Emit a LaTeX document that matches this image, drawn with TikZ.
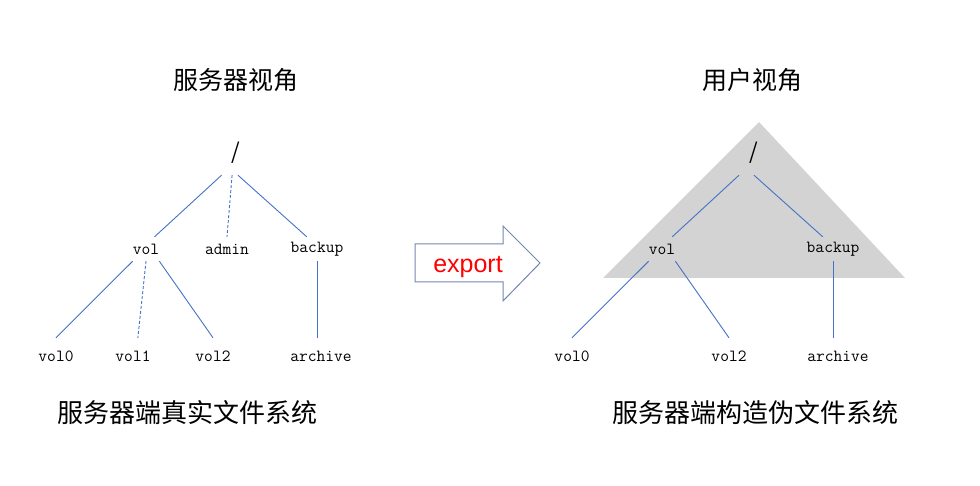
\documentclass[tikz,border=0pt]{standalone}
\usepackage{fontspec}
\newfontfamily\cjk{Noto Sans CJK SC}
\newfontfamily\arialfont{Liberation Sans}
\definecolor{linkblue}{HTML}{4472C4}
\definecolor{arrowline}{HTML}{7485AE}
\definecolor{viewgray}{HTML}{D3D3D3}
\begin{document}
\begin{tikzpicture}[x=1pt,y=-1pt,
	title/.style={font=\cjk\fontsize{25}{30}\selectfont,inner sep=0pt},
	caption/.style={font=\cjk\fontsize{26}{31}\selectfont,inner sep=0pt},
	root/.style={font=\cjk\fontsize{22}{26}\selectfont,inner sep=0pt,minimum width=40pt,minimum height=44pt},
	lbl/.style={font=\ttfamily\fontsize{17}{20}\selectfont,inner sep=0pt,minimum height=24pt},
	leaf/.style={lbl,minimum height=36pt},
	link/.style={draw=linkblue,line width=0.9pt},
	dlink/.style={link,dash pattern=on 3pt off 2pt}]
	\useasboundingbox (0,0) rectangle (980,486);
	% server side
	\node[title] (ltitle) at (236,80) {服务器视角};
	\node[root] (lroot) at (236,153) {/};
	\node[lbl] (lvol) at (146,249) {vol};
	\node[lbl] (ladmin) at (227,249) {admin};
	\node[lbl] (lbackup) at (317,249) {backup};
	\node[leaf] (lvol0) at (56,356) {vol0};
	\node[leaf] (lvol1) at (133,356) {vol1};
	\node[leaf] (lvol2) at (213,356) {vol2};
	\node[leaf] (larchive) at (321,356) {archive};
	\node[caption] (lcaption) at (187,413) {服务器端真实文件系统};
	\draw[link] (lroot.237) -- (lvol.55);
	\draw[dlink] (lroot.260) -- (ladmin.north);
	\draw[link] (lroot.275) -- (lbackup.130);
	\draw[link] (lvol.south west) -- (lvol0.north);
	\draw[dlink] (lvol.south) -- (lvol1.75);
	\draw[link] (lvol.south east) -- (lvol2.north);
	\draw[link] (lbackup.south) -- (lbackup.south |- larchive.north);
	% export arrow
	\draw[arrowline,line width=1pt] (415,244) -- (503,244) -- (503,226) -- (540,263)
		-- (503,301) -- (503,282) -- (415,282) -- cycle;
	\node[font=\arialfont\fontsize{25}{30}\selectfont,text=red,inner sep=0pt,anchor=base] (export) at (468,273) {export};
	% user side
	\fill[viewgray] (759,122) -- (905,278) -- (603,278) -- cycle;
	\node[title] (rtitle) at (752,80) {用户视角};
	\node[root] (rroot) at (754,153) {/};
	\node[lbl] (rvol) at (662,249) {vol};
	\node[lbl] (rbackup) at (833,249) {backup};
	\node[leaf] (rvol0) at (572,356) {vol0};
	\node[leaf] (rvol2) at (729,356) {vol2};
	\node[leaf] (rarchive) at (838,356) {archive};
	\node[caption] (rcaption) at (755,413) {服务器端构造伪文件系统};
	\draw[link] (rroot.236) -- (rvol.50);
	\draw[link] (rroot.south) -- (rbackup.130);
	\draw[link] (rvol.south west) -- (rvol0.north);
	\draw[link] (rvol.south east) -- (rvol2.north);
	\draw[link] (rbackup.south) -- (rbackup.south |- rarchive.north);
\end{tikzpicture}
\end{document}
